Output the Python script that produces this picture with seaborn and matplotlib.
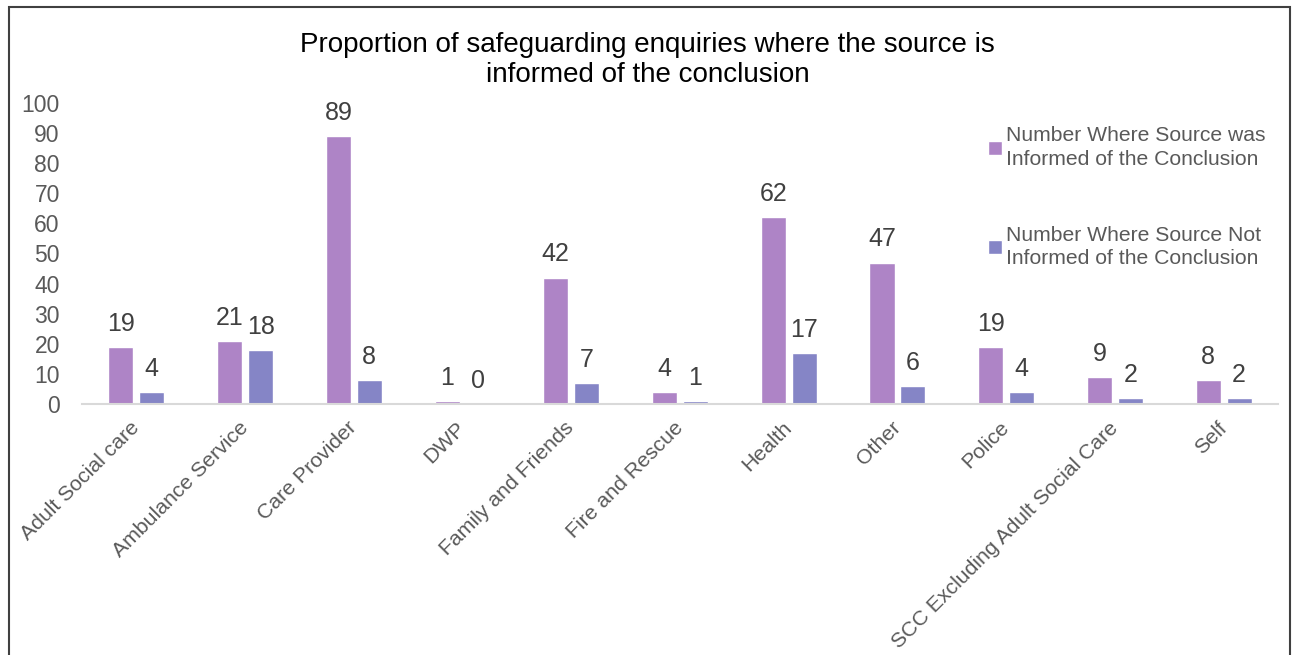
import numpy as np
import pandas as pd
import seaborn as sns
import matplotlib.pyplot as plt
from matplotlib.patches import Patch, Rectangle

# Source categories and counts
sources = ['Adult Social care', 'Ambulance Service', 'Care Provider', 'DWP',
           'Family and Friends', 'Fire and Rescue', 'Health', 'Other', 'Police',
           'SCC Excluding Adult Social Care', 'Self']
informed = [19, 21, 89, 1, 42, 4, 62, 47, 19, 9, 8]
not_informed = [4, 18, 8, 0, 7, 1, 17, 6, 4, 2, 2]
series_names = ['Number Where Source was\nInformed of the Conclusion',
                'Number Where Source Not\nInformed of the Conclusion']
colors = ['#AE84C6', '#8585C6']
title = 'Proportion of safeguarding enquiries where the source is\ninformed of the conclusion'

df = pd.DataFrame({
    'Source': sources * 2,
    'Series': [series_names[0]] * len(sources) + [series_names[1]] * len(sources),
    'Count': informed + not_informed,
})

sns.set_style('white')
plt.rcParams['font.family'] = ['Liberation Sans', 'DejaVu Sans']

fig = plt.figure(figsize=(12.95, 6.55), dpi=100)
ax = fig.add_axes([82 / 1295, 1 - 404 / 655, (1278 - 82) / 1295, (404 - 103) / 655])

sns.barplot(data=df, x='Source', y='Count', hue='Series', order=sources,
            hue_order=series_names, palette=colors, width=0.57, gap=0.19,
            saturation=1, legend=False, ax=ax)

for cont in ax.containers:
    ax.bar_label(cont, fmt='%d', padding=8, fontsize=18, color='#404040')

ax.set_ylim(0, 100)
ax.set_xlim(-0.5, len(sources) - 0.5)
ax.set_yticks(range(0, 101, 10))
ax.set_xlabel('')
ax.set_ylabel('')
ax.tick_params(axis='y', length=0, labelsize=16.5, labelcolor='#595959', pad=16)
ax.tick_params(axis='x', length=0, labelsize=15.3, labelcolor='#595959', pad=15)
plt.setp(ax.get_xticklabels(), rotation=45, ha='right', va='center',
         rotation_mode='anchor')
for side in ['top', 'right', 'left']:
    ax.spines[side].set_visible(False)
ax.spines['bottom'].set_color('#D9D9D9')
ax.spines['bottom'].set_linewidth(1.5)

handles = [Patch(facecolor=c, label=n) for c, n in zip(colors, series_names)]
leg = ax.legend(handles=handles, loc='upper left', bbox_to_anchor=(980 / 1295, 1 - 118 / 655),
                bbox_transform=fig.transFigure, frameon=False, fontsize=15.2,
                handlelength=0.65, handleheight=0.65, handletextpad=0.2,
                labelspacing=2.7, borderaxespad=0)
for t in leg.get_texts():
    t.set_color('#595959')
    t.set_linespacing(1.3)

fig.text(0.5, 1 - 60 / 655, title, ha='center', va='center', fontsize=20,
         color='#000000', linespacing=1.25)

# outer chart border
fig.add_artist(Rectangle((9 / 1295, -0.1), (1290 - 9) / 1295, 1.1 - 7 / 655,
                         transform=fig.transFigure, fill=False,
                         edgecolor='#404040', linewidth=1.5))

fig.savefig('out.png', dpi=100)
